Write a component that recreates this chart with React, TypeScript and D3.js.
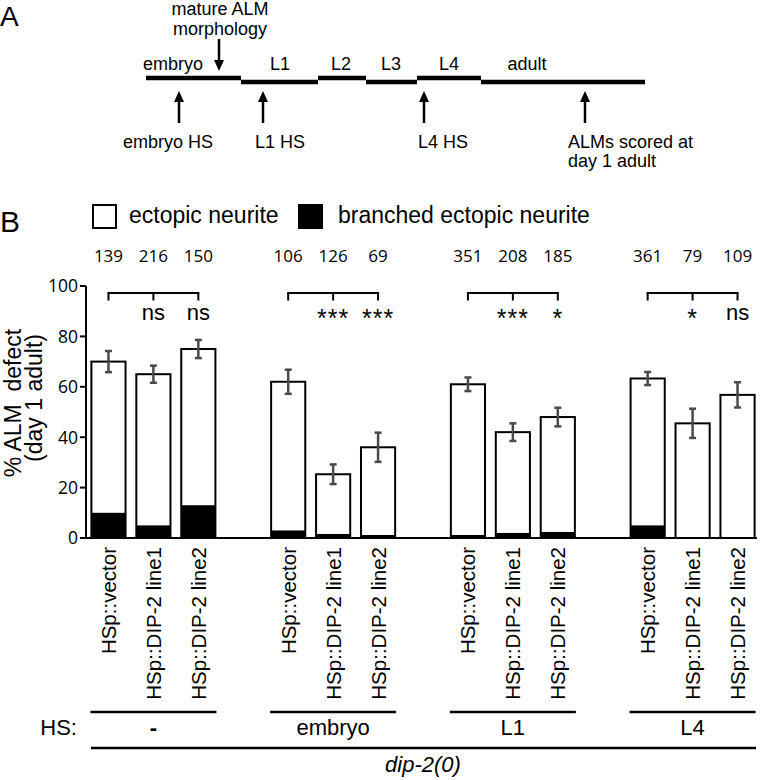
import React from "react";
import * as d3 from "d3";

const groups = ["-", "embryo", "L1", "L4"];
const conditions = ["HSp::vector", "HSp::DIP-2 line1", "HSp::DIP-2 line2"];
const ectopic = [
  [70, 65, 75],
  [62, 25.3, 36],
  [61, 42, 48],
  [63.3, 45.5, 56.8],
];
const branched = [
  [10, 5, 13],
  [3, 1.6, 1.2],
  [1.2, 2, 2.4],
  [5, 0, 0],
];
const errors = [
  [4.2, 3.4, 3.6],
  [4.8, 3.9, 5.8],
  [2.7, 3.5, 3.7],
  [2.6, 5.8, 5],
];
const counts = [
  ["139", "216", "150"],
  ["106", "126", "69"],
  ["351", "208", "185"],
  ["361", "79", "109"],
];
const sig = [
  ["", "ns", "ns"],
  ["", "***", "***"],
  ["", "***", "*"],
  ["", "*", "ns"],
];
const yTicks = [0, 20, 40, 60, 80, 100];

// panel A timeline
const stages = ["embryo", "L1", "L2", "L3", "L4", "adult"];
const stageStart = [146, 241, 318, 366, 417, 481];
const stageEnd = [241, 318, 366, 417, 481, 645];
const stageUpper = [true, false, true, false, true, false];
const stageLabelX = [173, 280, 341, 391, 449, 527];

const SANS = "'Liberation Sans', Arial, sans-serif";
const NUM = "'Open Sans', sans-serif";

export default function App() {
  const x0 = 86;
  const x1 = 760;
  const y = d3.scaleLinear().domain([0, 100]).range([538, 286]);
  const gx = d3.scaleBand().domain(groups).range([x0, x1]).paddingInner(0.25).paddingOuter(0);
  const bx = d3
    .scaleBand()
    .domain(conditions)
    .range([0, gx.bandwidth()])
    .paddingInner(0.24)
    .paddingOuter(0.12);
  const bw = bx.bandwidth();
  const cx = (g: string, c: string) => (gx(g) as number) + (bx(c) as number) + bw / 2;

  const arrowUp = (x: number, tip: number, bottom: number, key: string) => (
    <g key={key}>
      <line x1={x} x2={x} y1={tip + 8} y2={bottom} stroke="#000" strokeWidth={2.5} />
      <path d={`M${x},${tip} L${x - 5},${tip + 11} L${x + 5},${tip + 11} Z`} fill="#000" />
    </g>
  );

  return (
    <svg width={760} height={780} style={{ display: "block", position: "absolute", left: 0, top: 0 }}>
      <rect width={760} height={780} fill="#fff" />
      {/* Panel A */}
      <text x={0} y={26} fontFamily={SANS} fontSize={28}>A</text>
      <text x={220} y={15} textAnchor="middle" fontFamily={SANS} fontSize={18}>mature ALM</text>
      <text x={220} y={35} textAnchor="middle" fontFamily={SANS} fontSize={18}>morphology</text>
      <line x1={219} x2={219} y1={39} y2={62} stroke="#000" strokeWidth={2.5} />
      <path d={`M219,71 L214,60 L224,60 Z`} fill="#000" />
      {stages.map((s, i) => (
        <g key={s}>
          <line
            x1={stageStart[i]}
            x2={stageEnd[i]}
            y1={stageUpper[i] ? 78 : 82}
            y2={stageUpper[i] ? 78 : 82}
            stroke="#000"
            strokeWidth={4.5}
          />
          <text x={stageLabelX[i]} y={70} textAnchor="middle" fontFamily={SANS} fontSize={18}>{s}</text>
        </g>
      ))}
      {arrowUp(179, 91, 123, "a1")}
      {arrowUp(263, 91, 123, "a2")}
      {arrowUp(424, 91, 123, "a3")}
      {arrowUp(585, 91, 123, "a4")}
      <text x={168} y={148} textAnchor="middle" fontFamily={SANS} fontSize={18}>embryo HS</text>
      <text x={280} y={148} textAnchor="middle" fontFamily={SANS} fontSize={18}>L1 HS</text>
      <text x={443} y={148} textAnchor="middle" fontFamily={SANS} fontSize={18}>L4 HS</text>
      <text x={568} y={148} fontFamily={SANS} fontSize={18}>ALMs scored at</text>
      <text x={568} y={167} fontFamily={SANS} fontSize={18}>day 1 adult</text>

      {/* Panel B */}
      <text x={0} y={232} fontFamily={SANS} fontSize={30}>B</text>
      <rect x={93} y={205} width={23} height={23} fill="#fff" stroke="#000" strokeWidth={2} />
      <text x={129} y={223} fontFamily={SANS} fontSize={23}>ectopic neurite</text>
      <rect x={299} y={205} width={23} height={23} fill="#000" stroke="#000" strokeWidth={2} />
      <text x={338} y={223} fontFamily={SANS} fontSize={23}>branched ectopic neurite</text>

      {/* y axis */}
      <line x1={x0} x2={x0} y1={y(100)} y2={y(0)} stroke="#000" strokeWidth={2} />
      {yTicks.map((t) => (
        <g key={t}>
          <line x1={x0 - 6} x2={x0} y1={y(t)} y2={y(t)} stroke="#000" strokeWidth={2} />
          <text x={78} y={y(t)} dy="0.36em" textAnchor="end" fontFamily={NUM} fontSize={17.5}>{t}</text>
        </g>
      ))}
      <text
        transform={`translate(21,403) rotate(-90)`}
        textAnchor="middle"
        fontFamily={SANS}
        fontSize={23}
      >{"% ALM\u00A0 defect"}</text>
      <text
        transform={`translate(42,398) rotate(-90)`}
        textAnchor="middle"
        fontFamily={SANS}
        fontSize={23}
      >(day 1 adult)</text>

      {groups.map((g, gi) => {
        const c0 = cx(g, conditions[0]);
        const c2 = cx(g, conditions[2]);
        const left = (gx(g) as number) + (bx(conditions[0]) as number) - 1;
        const right = (gx(g) as number) + (bx(conditions[2]) as number) + bw + 1;
        return (
          <g key={g}>
            {conditions.map((c, ci) => {
              const xl = (gx(g) as number) + (bx(c) as number);
              const v = ectopic[gi][ci];
              const b = branched[gi][ci];
              const e = errors[gi][ci];
              const xc = xl + bw / 2;
              return (
                <g key={c}>
                  <rect x={xl} y={y(v)} width={bw} height={y(0) - y(v)} fill="#fff" stroke="#000" strokeWidth={2} />
                  {b > 0 && <rect x={xl} y={y(b)} width={bw} height={y(0) - y(b)} fill="#000" />}
                  <line x1={xc} x2={xc} y1={y(v + e)} y2={y(v - e)} stroke="#4a4a4a" strokeWidth={2.5} />
                  <line x1={xc - 3.5} x2={xc + 3.5} y1={y(v + e)} y2={y(v + e)} stroke="#4a4a4a" strokeWidth={2.5} />
                  <line x1={xc - 3.5} x2={xc + 3.5} y1={y(v - e)} y2={y(v - e)} stroke="#4a4a4a" strokeWidth={2.5} />
                  <text x={xc} y={262} textAnchor="middle" fontFamily={NUM} fontSize={17}>{counts[gi][ci]}</text>
                  {sig[gi][ci] &&
                    (sig[gi][ci] === "ns" ? (
                      <text x={xc} y={320} textAnchor="middle" fontFamily={SANS} fontSize={22}>ns</text>
                    ) : (
                      <text x={xc} y={327} textAnchor="middle" fontFamily={SANS} fontSize={25} letterSpacing={1}>{sig[gi][ci]}</text>
                    ))}
                  <line x1={xc} x2={xc} y1={293} y2={300.5} stroke="#000" strokeWidth={2} />
                  <text
                    transform={`translate(${xc + 7.5},547) rotate(-90)`}
                    textAnchor="end"
                    fontFamily={SANS}
                    fontSize={20.5}
                  >{c}</text>
                </g>
              );
            })}
            <line x1={c0 - 1} x2={c2 + 1} y1={293} y2={293} stroke="#000" strokeWidth={2} />
            <line x1={left} x2={right} y1={712} y2={712} stroke="#000" strokeWidth={2.5} />
            <text x={(left + right) / 2} y={735} textAnchor="middle" fontFamily={SANS} fontSize={22} fontWeight={g === "-" ? "bold" : "normal"}>{g}</text>
          </g>
        );
      })}
      <line x1={x0} x2={757} y1={y(0)} y2={y(0)} stroke="#000" strokeWidth={2} />
      <text x={77} y={735} textAnchor="end" fontFamily={SANS} fontSize={22}>HS:</text>
      <line x1={91} x2={756} y1={748} y2={748} stroke="#000" strokeWidth={2.5} />
      <text x={423} y={772} textAnchor="middle" fontFamily={SANS} fontSize={22} fontStyle="italic">dip-2(0)</text>
    </svg>
  );
}
